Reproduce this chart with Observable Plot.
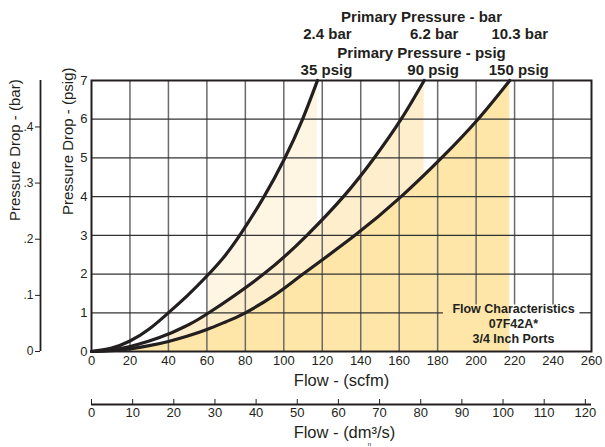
<!DOCTYPE html>
<html><head><meta charset="utf-8">
<script src="https://cdn.jsdelivr.net/npm/d3@7"></script>
<script src="https://cdn.jsdelivr.net/npm/@observablehq/plot@0.6"></script>
<style>body{margin:0;background:#fff}</style>
</head><body><div id="chart"></div>
<script>
// ---- data ----
const flowTicks = [0, 20, 40, 60, 80, 100, 120, 140, 160, 180, 200, 220, 240, 260];
const psigTicks = [0, 1, 2, 3, 4, 5, 6, 7];
const dmTicks = [0, 10, 20, 30, 40, 50, 60, 70, 80, 90, 100, 110, 120];
const barTicks = [0, 0.1, 0.2, 0.3, 0.4];
const barTickLabels = ["0", ".1", ".2", ".3", ".4"];

const psigLabels = ["35 psig", "90 psig", "150 psig"];
const barLabels = ["2.4 bar", "6.2 bar", "10.3 bar"];

// Pressure drop (psig) vs flow (scfm) for each primary pressure
const flow35 = [0, 10, 20, 30, 40, 50, 60, 69, 77.5, 89.5, 100.5, 109.5, 117.5];
const drop35 = [0, 0.08, 0.27, 0.58, 1.0, 1.45, 1.95, 2.45, 3.03, 3.98, 4.99, 5.97, 7.0];
const flow90 = [0, 10, 20, 30, 40, 50, 61, 89.5, 112, 131, 147, 161, 173];
const drop90 = [0, 0.04, 0.13, 0.27, 0.45, 0.68, 1.0, 2.0, 3.0, 4.0, 5.0, 6.0, 7.0];
const flow150 = [0, 10, 20, 30, 40, 50, 60, 70, 80, 95, 110, 137, 161, 182, 201, 217.5];
const drop150 = [0, 0.02, 0.07, 0.15, 0.26, 0.4, 0.57, 0.77, 1.0, 1.45, 2.0, 3.0, 4.0, 5.0, 6.0, 7.0];
const shadeFrom = [60, 40, 20]; // flow where each shaded band starts

const noteLines = ["Flow Characteristics", "07F42A*", "3/4 Inch Ports"];

// unit conversions of the secondary axes
const PSI_PER_BAR = 14.5;
const SCFM_PER_DM = 2.14;

// ---- build ----
const ink = "#231f20";
const shades = ["#fef6e3", "#feeecb", "#fee6a8"];
const CURVE = "natural";
const series = [
  {flow: flow35, drop: drop35},
  {flow: flow90, drop: drop90},
  {flow: flow150, drop: drop150}
].map((s, k) => ({
  k,
  pts: s.flow.map((f, i) => ({flow: f, drop: s.drop[i], k})),
  end: s.flow[s.flow.length - 1],
  top: s.drop[s.drop.length - 1]
}));

const NOTE = {x1: 183, x2: 254, top: 1.2};
const vGrid = flowTicks.slice(1, -1).map(x => ({x, y1: (x > NOTE.x1 && x < NOTE.x2) ? NOTE.top : 0}));
const hGrid = [];
psigTicks.slice(1, -1).forEach(y => {
  if (y < NOTE.top) { hGrid.push({y, x1: 0, x2: NOTE.x1}); hGrid.push({y, x1: NOTE.x2, x2: 260}); }
  else hGrid.push({y, x1: 0, x2: 260});
});

const marks = [];
series.forEach(s => {
  marks.push(Plot.areaY(s.pts.filter(p => p.flow >= shadeFrom[s.k]), {x: "flow", y: "drop", fill: shades[s.k], curve: CURVE}));
});
marks.push(Plot.ruleX(vGrid, {x: "x", y1: "y1", y2: 7, stroke: "#6a6a6a", strokeWidth: 1.5}));
marks.push(Plot.ruleY(hGrid, {y: "y", x1: "x1", x2: "x2", stroke: "#333", strokeWidth: 1.3}));
series.forEach(s => {
  marks.push(Plot.line(s.pts, {x: "flow", y: "drop", stroke: ink, strokeWidth: 3.2, curve: CURVE}));
});
marks.push(Plot.frame({stroke: ink, strokeWidth: 2}));

// main axes
marks.push(Plot.axisX({ticks: flowTicks, tickFormat: d => String(d), tickSize: 0, tickPadding: 4, fontSize: 13, label: null, fill: ink}));
marks.push(Plot.axisY({ticks: psigTicks, tickFormat: d => String(d), tickSize: 0, tickPadding: 4, fontSize: 13, label: null, fill: ink}));

// secondary flow axis (dm3/s)
marks.push(Plot.ruleY([0], {x1: 0, x2: 260, dy: 53, stroke: ink, strokeWidth: 1.8}));
marks.push(Plot.axisX({
  ticks: dmTicks.map(d => d * SCFM_PER_DM),
  tickFormat: d => String(Math.round(d / SCFM_PER_DM)),
  anchor: "bottom", tickSize: 5, tickPadding: 3, dy: 48, fontSize: 13, label: null, stroke: ink, fill: ink
}));

// secondary pressure axis (bar)
marks.push(Plot.ruleX([0], {y1: 0, y2: 7, dx: -51, stroke: ink, strokeWidth: 1.8}));
marks.push(Plot.axisY({
  ticks: barTicks.map(b => b * PSI_PER_BAR),
  tickFormat: d => barTickLabels[barTicks.findIndex(b => Math.abs(b * PSI_PER_BAR - d) < 1e-6)],
  anchor: "left", tickSize: 5, tickPadding: 2, dx: -51, fontSize: 12, label: null, stroke: ink, fill: ink
}));

// titles
const mid = {lineAnchor: "middle", fill: ink};
marks.push(Plot.text(["Pressure Drop - (psig)"], {...mid, frameAnchor: "left", rotate: -90, dx: -23, dy: -1, fontSize: 15}));
marks.push(Plot.text(["Pressure Drop - (bar)"], {...mid, frameAnchor: "left", rotate: -90, dx: -76, dy: 5, fontSize: 15}));
marks.push(Plot.text(["Flow - (scfm)"], {...mid, frameAnchor: "bottom", dy: 29, fontSize: 16.5}));
marks.push(Plot.text(["Flow - (dm³/s)"], {...mid, frameAnchor: "bottom", dx: 3, dy: 81, fontSize: 16.5}));
marks.push(Plot.text(["n"], {...mid, frameAnchor: "bottom", dx: 28, dy: 93, fontSize: 6}));

// pressure labels above the chart
marks.push(Plot.text(series, {...mid, x: "end", y: "top", text: d => psigLabels[d.k], dx: 9, dy: -10, fontSize: 15, fontWeight: "bold"}));
marks.push(Plot.text(series, {...mid, x: "end", y: "top", text: d => barLabels[d.k], dx: 10, dy: -46, fontSize: 15, fontWeight: "bold"}));
marks.push(Plot.text(["Primary Pressure - psig"], {...mid, frameAnchor: "top", dx: 80, dy: -27, fontSize: 15, fontWeight: "bold"}));
marks.push(Plot.text(["Primary Pressure - bar"], {...mid, frameAnchor: "top", dx: 80, dy: -63, fontSize: 15, fontWeight: "bold"}));

// note
marks.push(Plot.text([noteLines.join("\n")], {...mid, frameAnchor: "bottom-right", textAnchor: "middle", dx: -78, dy: -28, lineHeight: 1.2, fontSize: 12.5, fontWeight: "bold"}));

const chart = Plot.plot({
  width: 605, height: 447,
  marginLeft: 91, marginRight: 14, marginTop: 80, marginBottom: 96,
  x: {domain: [0, 260], label: null},
  y: {domain: [0, 7], label: null},
  style: {fontFamily: "'Liberation Sans', Arial, sans-serif", color: ink, background: "white", overflow: "visible"},
  marks
});
document.getElementById("chart").append(chart);
</script>
</body></html>
